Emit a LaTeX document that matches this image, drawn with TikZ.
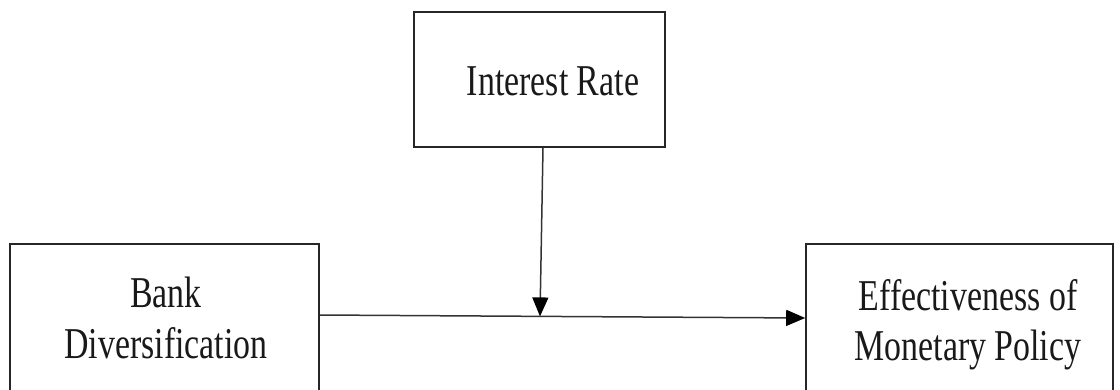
\documentclass[tikz,border=0pt]{standalone}
\usepackage{fontspec}
\setmainfont{Liberation Serif}[FakeStretch=0.77]
\usetikzlibrary{arrows.meta}
\begin{document}
\begin{tikzpicture}[x=1pt,y=1pt,
  box/.style={draw=black!85, line width=1.6pt, rectangle, inner sep=0pt},
  lbl/.style={font=\fontsize{44}{51}\selectfont, align=center, anchor=base, inner sep=0pt, text=black!90},
  conn/.style={draw=black!80, line width=1.5pt, -{Triangle[length=19pt,width=16pt,fill=black,color=black]}}]
\useasboundingbox (0,0) rectangle (1120,-389);
\clip (0,0) rectangle (1120,-389);
% boxes
\node[box, minimum width=251pt, minimum height=135pt] (ir) at (539.5,-79.5) {};
\node[box, minimum width=309pt, minimum height=156pt] (bank) at (164.5,-322) {};
\node[box, minimum width=307pt, minimum height=156pt] (eff) at (959.5,-322) {};
% labels
\node[lbl] (irt) at (553,-95) {Interest Rate};
\node[lbl] (bankt1) at (166,-307) {Bank};
\node[lbl] (bankt2) at (166,-358) {Diversification};
\node[lbl] (efft1) at (968,-310) {Effectiveness of};
\node[lbl] (efft2) at (968,-360) {Monetary Policy};
% connectors
\coordinate (hs) at ([yshift=7pt]bank.east);
\coordinate (he) at ([yshift=4pt]eff.west);
\coordinate (m) at (540,-316.4);
\draw[conn] (hs) -- (he);
\draw[conn] ([xshift=3.5pt]ir.south) -- (m);
\end{tikzpicture}
\end{document}
